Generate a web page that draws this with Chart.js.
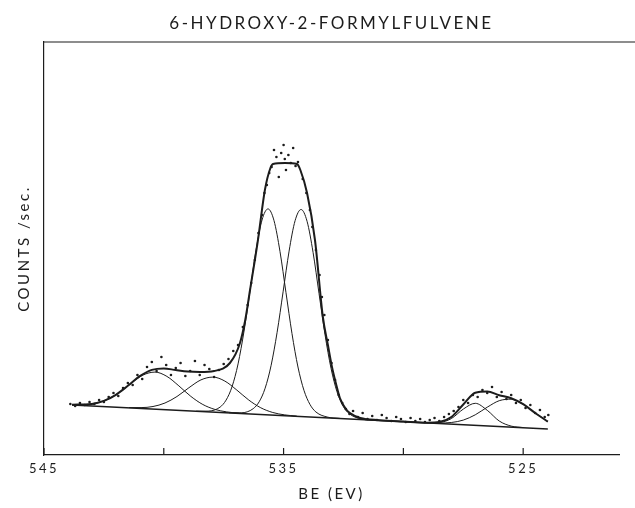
<!DOCTYPE html>
<html>
<head>
<meta charset="utf-8">
<title>6-Hydroxy-2-formylfulvene</title>
<script src="https://cdn.jsdelivr.net/npm/chart.js@4.4.1/dist/chart.umd.min.js"></script>
<style>
  html, body { margin: 0; padding: 0; background: #fff; }
</style>
</head>
<body>
<canvas id="xps" width="635" height="508"></canvas>
<script>
// axis
const beTicks = [545, 540, 535, 530, 525];
const beLabelled = [545, 535, 525];

// measured counts (scatter)
const dotBE = [543.9, 543.7, 543.5, 543.3, 543.1, 542.9, 542.7, 542.5, 542.3, 542.1, 541.9, 541.7, 541.5, 541.3, 541.1, 540.9, 540.7, 540.5, 540.3, 540.1,
  539.9, 539.7, 539.5, 539.3, 539.1, 538.9, 538.7, 538.5, 538.3, 538.1, 537.9, 537.7, 537.5,
  537.3, 537.1, 536.9, 536.7, 536.5, 536.35, 536.2, 536.05, 535.9, 535.8, 535.7, 535.6, 535.5,
  535.4, 535.3, 535.2, 535.1, 535.0, 534.95, 534.9, 534.8, 534.7, 534.6, 534.5, 534.4,
  534.2, 534.05, 533.9, 533.8, 533.65, 533.5, 533.4, 533.3, 533.15, 533.0, 532.85, 532.7, 532.55, 532.4, 532.25, 532.1,
  531.9, 531.7, 531.5, 531.3, 531.1, 530.9, 530.7, 530.5, 530.3, 530.1, 529.9, 529.7, 529.5, 529.3, 529.1, 528.9, 528.7,
  528.5, 528.3, 528.1, 527.9, 527.7, 527.5, 527.3, 527.1, 526.9, 526.7, 526.5, 526.3, 526.1, 525.9, 525.7, 525.5, 525.3, 525.1, 524.9, 524.7, 524.5, 524.3, 524.1, 523.95];
const dotCounts = [51, 49, 52, 50, 53, 51, 55, 53, 58, 62, 59, 67, 72, 70, 80, 76, 88, 93, 84, 98,
  90, 80, 87, 92, 79, 84, 94, 80, 90, 86, 78, 85, 91,
  96, 104, 110, 128, 150, 172, 195, 222, 240, 262, 270, 282, 288,
  305, 298, 278, 302, 310, 296, 285, 300, 292, 307, 289, 293,
  276, 262, 245, 228, 205, 180, 158, 140, 115, 92, 75, 60, 52, 46, 41, 44,
  38, 42, 36, 39, 35, 40, 37, 34, 38, 36, 33, 37, 34, 36, 33, 35, 37,
  34, 38, 41, 44, 48, 55, 52, 60, 58, 65, 62, 68, 58, 63, 56, 60, 52, 55, 47, 50, 42, 45, 38, 40];

// fitted envelope
const fitBE = [543.83, 543.0, 542.5, 542.0, 541.5, 541.0, 540.5, 540.0, 539.5, 539.0, 538.49, 537.9, 537.24, 536.82, 536.6, 536.4, 536.07, 535.78, 535.55, 535.44,
  534.94, 534.44, 534.3, 534.02, 533.69, 533.36, 533.15, 532.98, 532.8, 532.65, 532.4, 532.23, 531.8, 531.0, 530.0, 529.0, 528.5, 528.0, 527.5, 527.0, 526.5, 526.0, 525.5, 525.0, 524.5, 523.97];
const fitCounts = [50.3, 51.1, 54.1, 60.2, 69.2, 78.8, 85.1, 86.6, 84.9, 83.4, 83, 84, 92, 112, 135, 165, 215, 265, 287, 291,
  292, 291, 285, 262, 215, 138, 110, 88, 70, 57, 46, 42, 37, 34.8, 33.4, 32.3, 32.9, 38.0, 50.5, 62.2, 63.4, 59.8, 56.8, 50.8, 42.0, 33.4];

// background line
const baseBE = [543.83, 523.97];
const baseCounts = [50, 26];

// component peaks
const c1BE = [543.83, 543.37, 542.87, 542.37, 541.87, 541.37, 540.87, 540.37, 539.87, 539.37, 538.87, 538.37, 537.87, 537.37, 536.87];
const c1Counts = [50.3, 50.4, 51.7, 55.4, 62.3, 71.6, 79.9, 82.9, 78.6, 69.1, 58.6, 50.5, 45.6, 43.1, 41.8];
const c2BE = [541.45, 540.95, 540.45, 539.95, 539.45, 538.95, 538.45, 537.95, 537.45, 536.95, 536.45, 535.95, 535.45, 534.95, 534.45];
const c2Counts = [47.4, 47.4, 48.5, 52.0, 58.5, 67.3, 75.1, 77.9, 73.9, 64.9, 54.9, 47.2, 42.5, 40.1, 38.9];
const c3BE = [538.65, 538.15, 537.65, 537.4, 537.15, 536.9, 536.65, 536.4, 536.15, 535.9, 535.65, 535.4, 535.15, 534.9, 534.65, 534.4, 534.15, 533.9, 533.65, 533.15, 532.65];
const c3Counts = [43.8, 43.9, 47.9, 54.9, 68.4, 91.1, 124.0, 164.2, 204.7, 235.0, 246.1, 234.4, 203.5, 162.4, 121.5, 88.0, 64.7, 50.6, 43.0, 37.8, 36.6];
const c4BE = [537.27, 536.77, 536.27, 536.02, 535.77, 535.52, 535.27, 535.02, 534.77, 534.52, 534.27, 534.02, 533.77, 533.52, 533.27, 533.02, 532.77, 532.52, 532.27, 531.77, 531.27];
const c4Counts = [42.2, 42.2, 46.3, 53.2, 66.8, 89.7, 122.7, 163.2, 203.9, 234.3, 245.5, 233.7, 202.7, 161.4, 120.3, 86.7, 63.2, 49.0, 41.5, 36.1, 34.9];
const c5BE = [529.0, 528.5, 528.0, 527.5, 527.0, 526.5, 526.0, 525.5, 525.0];
const c5Counts = [32.2, 32.5, 36.4, 45.9, 51.7, 44.7, 34.0, 28.9, 27.4];
const c6BE = [528.5, 528.0, 527.5, 527.0, 526.5, 526.0, 525.5, 525.0, 524.5, 523.97];
const c6Counts = [31.9, 32.5, 34.9, 40.2, 47.8, 54.3, 55.8, 50.7, 42.0, 33.4];

const ink = '#1c1c1c';

Chart.defaults.font.family = "Lato, 'Open Sans', sans-serif";
Chart.defaults.color = ink;

function toPts(xs, ys) {
  return xs.map((x, i) => ({ x: x, y: ys[i] }));
}

function curve(label, xs, ys, w) {
  return {
    label: label,
    data: toPts(xs, ys),
    borderColor: ink,
    borderWidth: w,
    pointRadius: 0,
    fill: false,
    cubicInterpolationMode: 'monotone'
  };
}

// frame bits the axes don't draw: long top rule and inward ticks
const frame = {
  id: 'frame',
  beforeDraw(chart) {
    chart.ctx.letterSpacing = '2.5px';
  },
  afterDraw(chart) {
    const ctx = chart.ctx;
    const area = chart.chartArea;
    const x = chart.scales.x;
    ctx.save();
    ctx.strokeStyle = ink;
    ctx.lineWidth = 1.2;
    ctx.beginPath();
    ctx.moveTo(area.left, area.top);
    ctx.lineTo(chart.width, area.top);
    x.ticks.forEach(function(t) {
      const px = x.getPixelForValue(t.value);
      ctx.moveTo(px, area.bottom);
      ctx.lineTo(px, area.bottom - 7);
    });
    ctx.stroke();
    ctx.restore();
  }
};

const data = {
  datasets: [
    {
      label: 'counts',
      data: toPts(dotBE, dotCounts),
      showLine: false,
      pointRadius: 1.3,
      pointBackgroundColor: ink,
      pointBorderWidth: 0
    },
    curve('fit', fitBE, fitCounts, 2),
    Object.assign(curve('background', baseBE, baseCounts, 1.5), { cubicInterpolationMode: 'default', tension: 0 }),
    curve('peak 1', c1BE, c1Counts, 1),
    curve('peak 2', c2BE, c2Counts, 1),
    curve('peak 3', c3BE, c3Counts, 1),
    curve('peak 4', c4BE, c4Counts, 1),
    curve('peak 5', c5BE, c5Counts, 1),
    curve('peak 6', c6BE, c6Counts, 1)
  ]
};

const config = {
  type: 'line',
  data: data,
  plugins: [frame],
  options: {
    responsive: false,
    devicePixelRatio: 1,
    animation: false,
    layout: { padding: { left: 0, right: 16, top: 0, bottom: 0 } },
    plugins: {
      legend: { display: false },
      tooltip: { enabled: false },
      title: {
        display: true,
        fullSize: false,
        text: '6-HYDROXY-2-FORMYLFULVENE',
        color: ink,
        font: { size: 17, weight: 'normal' },
        padding: { top: 13, bottom: 8.6 }
      }
    },
    scales: {
      x: {
        type: 'linear',
        reverse: true,
        min: 521,
        max: 545,
        grid: { display: false, drawTicks: false },
        border: { display: true, color: ink, width: 1.2 },
        afterBuildTicks: function(s) {
          s.ticks = beTicks.map(v => ({ value: v }));
        },
        ticks: {
          padding: 6,
          maxRotation: 0,
          autoSkip: false,
          font: { size: 13 },
          callback: function(v) {
            return beLabelled.includes(v) ? String(v) : '';
          }
        },
        title: { display: true, text: 'BE (EV)', font: { size: 15 }, padding: { top: 0, bottom: 5 } },
        afterFit: function(s) { s.height = 53; }
      },
      y: {
        min: 0,
        max: 413,
        grid: { display: false, drawTicks: false },
        border: { display: true, color: ink, width: 1.2 },
        ticks: { display: false },
        title: { display: true, text: 'COUNTS /sec.', font: { size: 15 }, padding: { top: 15, bottom: 0 } },
        afterFit: function(s) { s.width = 44; }
      }
    }
  }
};

let chart = new Chart(document.getElementById('xps').getContext('2d'), config);
</script>
</body>
</html>
